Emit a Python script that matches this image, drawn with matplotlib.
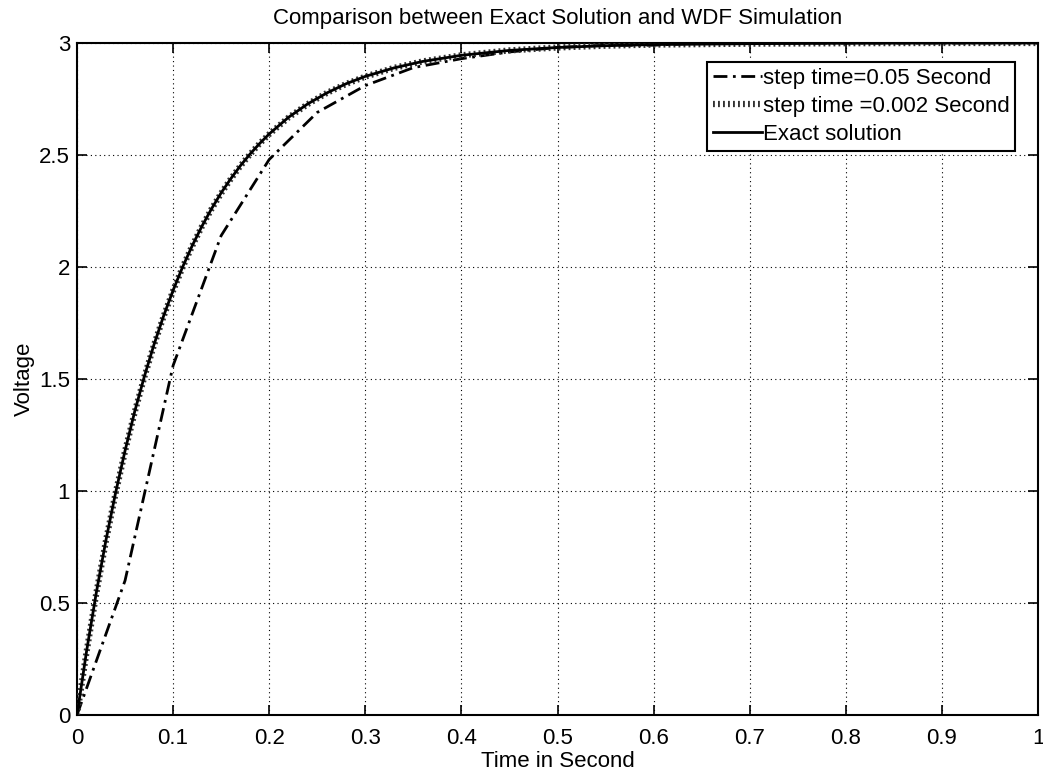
import matplotlib
matplotlib.use("Agg")
import matplotlib.pyplot as plt

# Coarse WDF simulation (step 0.05 s)
t_coarse = [0.0, 0.05, 0.10, 0.15, 0.20, 0.25, 0.30, 0.35, 0.40, 0.45,
            0.50, 0.55, 0.60, 0.65, 0.70, 0.75, 0.80, 0.85, 0.90, 0.95, 1.00]
v_coarse = [0.0, 0.60, 1.56, 2.14, 2.48, 2.69, 2.81, 2.89, 2.93, 2.96,
            2.98, 2.99, 2.99, 3.00, 3.00, 3.00, 3.00, 3.00, 3.00, 3.00, 3.00]

# Fine WDF simulation (step 0.002 s) and exact solution
t_fine = [0.0, 0.01, 0.02, 0.03, 0.04, 0.05, 0.06, 0.07, 0.08, 0.09,
          0.10, 0.11, 0.12, 0.13, 0.14, 0.15, 0.16, 0.17, 0.18, 0.19,
          0.20, 0.22, 0.24, 0.26, 0.28, 0.30, 0.33, 0.36, 0.40, 0.45,
          0.50, 0.55, 0.60, 0.70, 0.80, 0.90, 1.00]
v_fine = [0.0, 0.283, 0.541, 0.775, 0.987, 1.178, 1.351, 1.508, 1.650, 1.778,
          1.894, 2.000, 2.095, 2.181, 2.259, 2.329, 2.393, 2.451, 2.503, 2.551,
          2.593, 2.667, 2.727, 2.777, 2.817, 2.850, 2.889, 2.918, 2.945, 2.967,
          2.980, 2.988, 2.993, 2.997, 2.999, 3.000, 3.000]
v_exact = [0.0, 0.286, 0.544, 0.778, 0.989, 1.180, 1.354, 1.510, 1.652, 1.780,
           1.896, 2.001, 2.096, 2.182, 2.260, 2.331, 2.394, 2.452, 2.504, 2.551,
           2.594, 2.668, 2.728, 2.777, 2.818, 2.851, 2.889, 2.918, 2.945, 2.967,
           2.980, 2.988, 2.993, 2.997, 2.999, 3.000, 3.000]

x_ticks = [0, 0.1, 0.2, 0.3, 0.4, 0.5, 0.6, 0.7, 0.8, 0.9, 1]
x_labels = ["0", "0.1", "0.2", "0.3", "0.4", "0.5", "0.6", "0.7", "0.8", "0.9", "1"]
y_ticks = [0, 0.5, 1, 1.5, 2, 2.5, 3]
y_labels = ["0", "0.5", "1", "1.5", "2", "2.5", "3"]

FS = 16
plt.rcParams["font.family"] = ["Liberation Sans", "DejaVu Sans"]
plt.rcParams["font.size"] = FS

fig = plt.figure(figsize=(10.43, 7.76), dpi=100)
ax = fig.add_axes([77 / 1043, 61 / 776, 961 / 1043, 672 / 776])

ax.plot(t_coarse, v_coarse, color="black", lw=2.0,
        linestyle=(0, (5, 2, 1, 2)), label="step time=0.05 Second", zorder=3)
ax.plot(t_fine, v_fine, color="#333333", lw=4.5,
        linestyle=(0, (0.3, 0.5)), label="step time =0.002 Second", zorder=3)
ax.plot(t_fine, v_exact, color="black", lw=2.0,
        linestyle="-", label="Exact solution", zorder=4)

ax.set_xlim(0, 1)
ax.set_ylim(0, 3)
ax.set_xticks(x_ticks)
ax.set_xticklabels(x_labels)
ax.set_yticks(y_ticks)
ax.set_yticklabels(y_labels)

ax.grid(True, color="black", linestyle=(0, (1, 3)), linewidth=0.8)
ax.tick_params(direction="in", length=7, width=1.2, top=True, right=True,
               labelsize=FS)
ax.tick_params(axis="x", pad=9)
ax.tick_params(axis="y", pad=5)
for sp in ax.spines.values():
    sp.set_linewidth(1.5)
    sp.set_color("black")

ax.set_title("Comparison between Exact Solution and WDF Simulation",
             fontsize=FS, pad=14)
ax.set_xlabel("Time in Second", fontsize=FS, labelpad=2)
ax.set_ylabel("Voltage", fontsize=FS, labelpad=3)

leg = ax.legend(loc="upper right", bbox_to_anchor=((1015 - 77) / 961, (715 - 62) / 672),
                borderaxespad=0, fancybox=False, framealpha=1, edgecolor="black",
                fontsize=FS, handlelength=2.2, handletextpad=0.05,
                labelspacing=0.33, borderpad=0.25)
leg.get_frame().set_linewidth(1.5)

fig.savefig("out.png", dpi=100)
